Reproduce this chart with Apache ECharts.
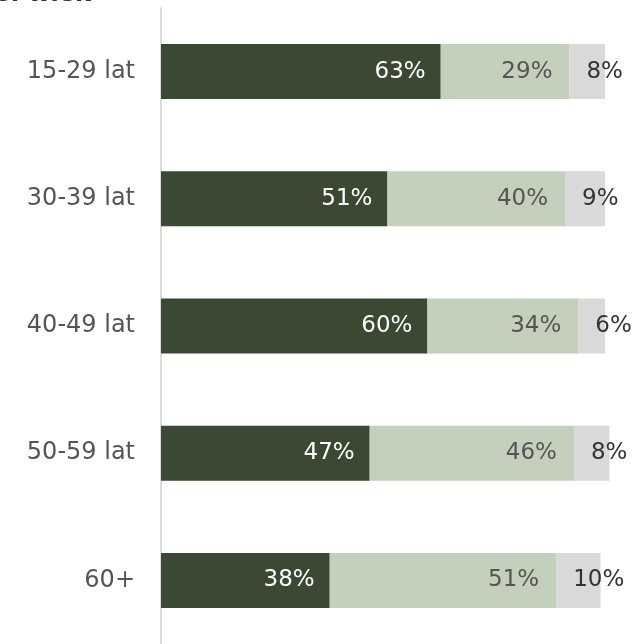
<!DOCTYPE html>
<html>
<head>
<meta charset="utf-8">
<script src="https://cdn.jsdelivr.net/npm/echarts@6/dist/echarts.min.js"></script>
<style>
  html, body { margin: 0; padding: 0; background: #fff; }
  #chart { width: 641px; height: 644px; }
</style>
</head>
<body>
<div id="chart"></div>
<script>
// Age groups, top to bottom
const categories = ['15-29 lat', '30-39 lat', '40-49 lat', '50-59 lat', '60+'];
// Share of answers per group (%)
const seriesA = [63, 51, 60, 47, 38];
const seriesB = [29, 40, 34, 46, 51];
const seriesC = [8, 9, 6, 8, 10];

const FONT = 'DejaVu Sans, sans-serif';

const chart = echarts.init(document.getElementById('chart'), null, { renderer: 'canvas' });

function pctLabel(position, color, distance) {
  return {
    show: true,
    position: position,
    distance: distance,
    formatter: p => p.value + '%',
    color: color,
    fontFamily: FONT,
    fontSize: 23
  };
}

chart.setOption({
  animation: false,
  backgroundColor: '#ffffff',
  graphic: [{
    type: 'text',
    x: -4,
    y: 7,
    style: {
      text: 's: wiek',
      fill: '#333333',
      font: 'bold 24px ' + FONT,
      textVerticalAlign: 'bottom'
    }
  }],
  grid: { left: 161, top: 8, width: 444, height: 637.5, containLabel: false },
  xAxis: {
    type: 'value',
    min: 0,
    max: 100,
    show: false
  },
  yAxis: {
    type: 'category',
    data: categories,
    inverse: true,
    axisLine: { show: true, lineStyle: { color: '#d0d0d0', width: 1.5 } },
    axisTick: { show: false },
    axisLabel: {
      color: '#555555',
      fontFamily: FONT,
      fontSize: 24,
      margin: 26
    }
  },
  series: [
    {
      type: 'bar', stack: 'total', data: seriesA, barWidth: 55, clip: false,
      itemStyle: { color: '#3b4832' },
      label: pctLabel('insideRight', '#ffffff', 15)
    },
    {
      type: 'bar', stack: 'total', data: seriesB, barWidth: 55, clip: false,
      itemStyle: { color: '#c4d0bc' },
      label: pctLabel('insideRight', '#555555', 17)
    },
    {
      type: 'bar', stack: 'total', data: seriesC, barWidth: 55, clip: false,
      itemStyle: { color: '#d9d9d9' },
      label: pctLabel('insideLeft', '#333333', 17)
    }
  ]
});
</script>
</body>
</html>
